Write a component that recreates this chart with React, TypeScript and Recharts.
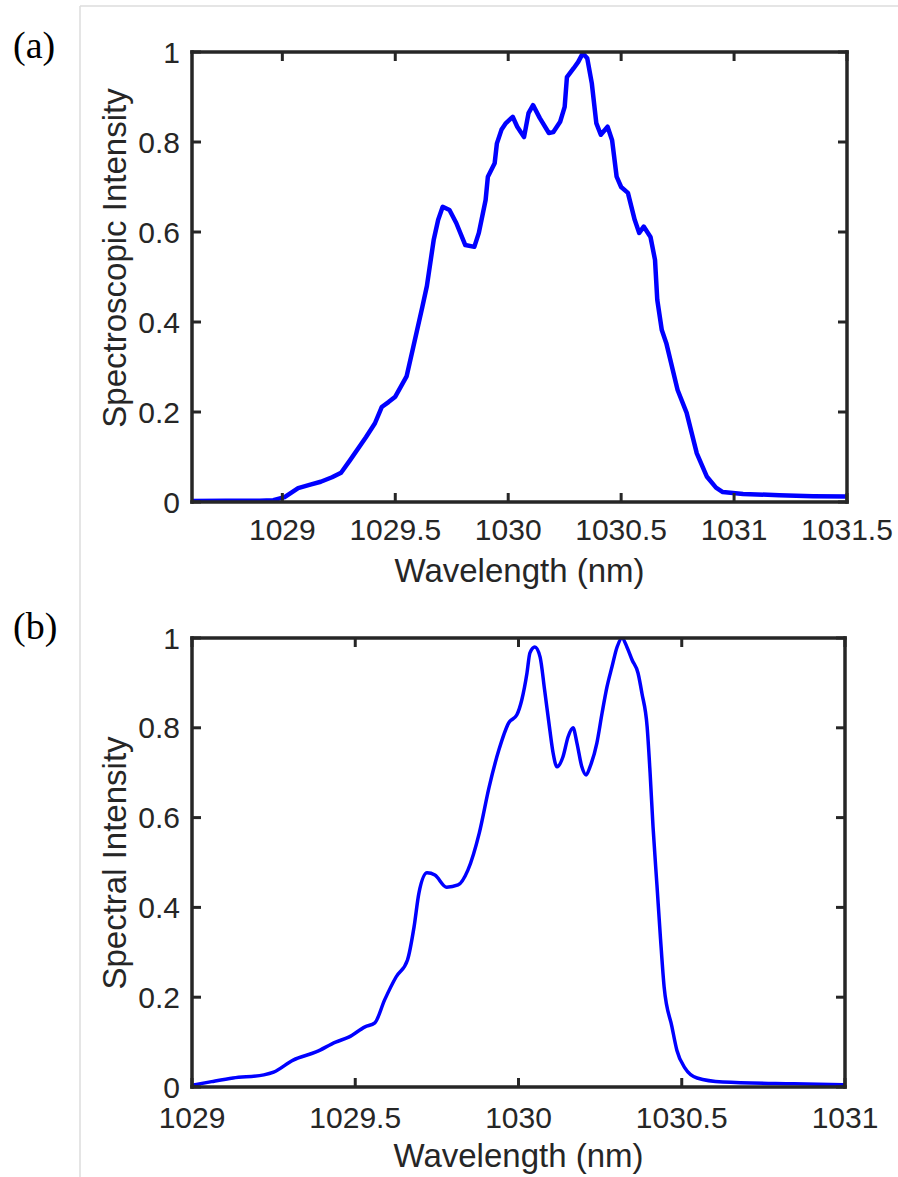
import React from 'react';
import { LineChart, Line, XAxis, YAxis, Label } from 'recharts';

// ---------- data ----------
const topWavelength = [
  1028.6, 1028.75, 1028.9, 1028.96, 1029.01, 1029.07, 1029.12, 1029.17, 1029.22, 1029.26,
  1029.3, 1029.37, 1029.41, 1029.44, 1029.47, 1029.5, 1029.55, 1029.58, 1029.62, 1029.64,
  1029.67, 1029.69, 1029.71, 1029.74, 1029.77, 1029.81, 1029.85, 1029.87, 1029.9, 1029.91,
  1029.94, 1029.95, 1029.97, 1029.99, 1030.02, 1030.04, 1030.07, 1030.09, 1030.11, 1030.14,
  1030.18, 1030.2, 1030.23, 1030.25, 1030.26, 1030.29, 1030.31, 1030.33, 1030.35, 1030.37,
  1030.39, 1030.41, 1030.44, 1030.46, 1030.48, 1030.5, 1030.53, 1030.56, 1030.58, 1030.6,
  1030.63, 1030.65, 1030.66, 1030.68, 1030.7, 1030.75, 1030.79, 1030.835, 1030.88, 1030.92,
  1030.95, 1031.04, 1031.2, 1031.35, 1031.5,
];
const topIntensity = [
  0.002, 0.003, 0.003, 0.004, 0.011, 0.031, 0.038, 0.045, 0.055, 0.065,
  0.093, 0.144, 0.175, 0.211, 0.222, 0.234, 0.279, 0.345, 0.434, 0.48,
  0.582, 0.627, 0.656, 0.649, 0.62, 0.571, 0.567, 0.598, 0.671, 0.723,
  0.753, 0.797, 0.827, 0.842, 0.856, 0.834, 0.811, 0.864, 0.882, 0.853,
  0.82, 0.822, 0.845, 0.878, 0.944, 0.964, 0.978, 0.997, 0.986, 0.931,
  0.842, 0.816, 0.834, 0.804, 0.723, 0.7, 0.687, 0.627, 0.598, 0.612,
  0.589, 0.538, 0.449, 0.382, 0.353, 0.249, 0.198, 0.108, 0.056, 0.032,
  0.022, 0.018, 0.015, 0.013, 0.012,
];

const bottomWavelength = [
  1029.0, 1029.06, 1029.126, 1029.22, 1029.25, 1029.31, 1029.38, 1029.44, 1029.48, 1029.53,
  1029.56, 1029.59, 1029.625, 1029.66, 1029.68, 1029.695, 1029.72, 1029.744, 1029.78, 1029.815,
  1029.845, 1029.88, 1029.91, 1029.94, 1029.97, 1029.995, 1030.01, 1030.026, 1030.035, 1030.05,
  1030.066, 1030.08, 1030.096, 1030.106, 1030.118, 1030.136, 1030.152, 1030.167, 1030.179, 1030.194,
  1030.207, 1030.219, 1030.24, 1030.256, 1030.271, 1030.286, 1030.302, 1030.317, 1030.332, 1030.348,
  1030.366, 1030.378, 1030.394, 1030.403, 1030.412, 1030.424, 1030.435, 1030.446, 1030.47, 1030.485,
  1030.51, 1030.547, 1030.626, 1030.844, 1031.0,
];
const bottomIntensity = [
  0.004, 0.012, 0.02, 0.027, 0.033, 0.06, 0.078, 0.1, 0.111, 0.134,
  0.143, 0.194, 0.245, 0.283, 0.356, 0.432, 0.477, 0.472, 0.445, 0.45,
  0.483, 0.566, 0.668, 0.751, 0.811, 0.829, 0.862, 0.922, 0.967, 0.98,
  0.958, 0.884, 0.795, 0.744, 0.713, 0.735, 0.78, 0.8, 0.766, 0.713,
  0.695, 0.713, 0.766, 0.833, 0.891, 0.935, 0.98, 1.0, 0.98, 0.951,
  0.922, 0.877, 0.802, 0.7, 0.58, 0.45, 0.33, 0.223, 0.134, 0.082,
  0.042, 0.02, 0.011, 0.007, 0.005,
];

const topXTicks = [1029, 1029.5, 1030, 1030.5, 1031, 1031.5];
const bottomXTicks = [1029, 1029.5, 1030, 1030.5, 1031];
const yTicks = [0, 0.2, 0.4, 0.6, 0.8, 1];
const panelLabels = ['(a)', '(b)'];
const xTitle = 'Wavelength (nm)';
const yTitles = ['Spectroscopic Intensity', 'Spectral Intensity'];

// ---------- style ----------
const AXIS = '#262626';
const FONT = '"Liberation Sans", Arial, Helvetica, sans-serif';
const BLUE = '#0000ff';

const topData = topWavelength.map((x, i) => ({ x, y: topIntensity[i] }));
const bottomData = bottomWavelength.map((x, i) => ({ x, y: bottomIntensity[i] }));

const fmt = (v: number) => String(v);
const blank = () => '';

const axisLineStyle = { stroke: AXIS, strokeWidth: 3.5, strokeLinecap: 'square' as const };
const tickLineStyle = { stroke: AXIS, strokeWidth: 3 };
const tickText = { fill: AXIS, fontSize: 30, fontFamily: FONT };

type PanelProps = {
  data: { x: number; y: number }[];
  domain: [number, number];
  xTicks: number[];
  xTickMargin: number;
  yTitle: string;
  yTitleCenter: number;
  height: number;
  margin: { top: number; right: number; bottom: number; left: number };
  strokeWidth: number;
  curve: 'linear' | 'monotone';
};

function Panel(p: PanelProps) {
  const xLabel = (props: any) => {
    const vb = props.viewBox || {};
    return (
      <text x={vb.x + vb.width / 2} y={vb.y + 80} textAnchor="middle" fill={AXIS} fontSize={33} fontFamily={FONT}>
        {xTitle}
      </text>
    );
  };
  const yLabel = () => (
    <text
      x={126}
      y={p.yTitleCenter}
      transform={`rotate(-90, 126, ${p.yTitleCenter})`}
      textAnchor="middle"
      fill={AXIS}
      fontSize={33}
      fontFamily={FONT}
    >
      {p.yTitle}
    </text>
  );
  return (
    <LineChart width={898} height={p.height} data={p.data} margin={p.margin}>
      <XAxis
        xAxisId="b"
        dataKey="x"
        type="number"
        domain={p.domain}
        allowDataOverflow
        ticks={p.xTicks}
        interval={0}
        height={60}
        tickSize={-9}
        tickMargin={p.xTickMargin}
        axisLine={axisLineStyle}
        tickLine={tickLineStyle}
        tick={tickText}
        tickFormatter={fmt}
        label={<Label content={xLabel} />}
      />
      <XAxis
        xAxisId="t"
        orientation="top"
        dataKey="x"
        type="number"
        domain={p.domain}
        allowDataOverflow
        ticks={p.xTicks}
        interval={0}
        height={1}
        tickSize={-9}
        tickMargin={0}
        axisLine={axisLineStyle}
        tickLine={tickLineStyle}
        tick={tickText}
        tickFormatter={blank}
      />
      <YAxis
        yAxisId="l"
        type="number"
        domain={[0, 1]}
        allowDataOverflow
        ticks={yTicks}
        interval={0}
        width={100}
        tickSize={-9}
        tickMargin={21}
        axisLine={axisLineStyle}
        tickLine={tickLineStyle}
        tick={tickText}
        tickFormatter={fmt}
        label={<Label content={yLabel} />}
      />
      <YAxis
        yAxisId="r"
        orientation="right"
        type="number"
        domain={[0, 1]}
        allowDataOverflow
        ticks={yTicks}
        interval={0}
        width={1}
        tickSize={-9}
        tickMargin={0}
        axisLine={axisLineStyle}
        tickLine={tickLineStyle}
        tick={tickText}
        tickFormatter={blank}
      />
      <Line
        xAxisId="b"
        yAxisId="l"
        dataKey="y"
        type={p.curve}
        stroke={BLUE}
        strokeWidth={p.strokeWidth}
        strokeLinejoin="round"
        dot={false}
        activeDot={false}
        isAnimationActive={false}
      />
    </LineChart>
  );
}

export default function App() {
  return (
    <div style={{ position: 'absolute', left: 0, top: 0, width: 898, height: 1177, background: '#fff', overflow: 'hidden' }}>
      <div style={{ position: 'absolute', left: 0, top: 0 }}>
        <Panel
          data={topData}
          domain={[1028.6, 1031.5]}
          xTicks={topXTicks}
          xTickMargin={26}
          yTitle={yTitles[0]}
          yTitleCenter={258}
          height={600}
          margin={{ top: 51, right: 50, bottom: 38, left: 92 }}
          strokeWidth={4.5}
          curve="linear"
        />
      </div>
      <div style={{ position: 'absolute', left: 0, top: 600 }}>
        <Panel
          data={bottomData}
          domain={[1029, 1031]}
          xTicks={bottomXTicks}
          xTickMargin={29}
          yTitle={yTitles[1]}
          yTitleCenter={263}
          height={577}
          margin={{ top: 37, right: 52, bottom: 30, left: 92 }}
          strokeWidth={3.5}
          curve="monotone"
        />
      </div>
      <svg width={898} height={1177} style={{ position: 'absolute', left: 0, top: 0, pointerEvents: 'none' }}>
        <line x1={80} y1={6} x2={898} y2={6} stroke="#dcdcdc" strokeWidth={1.5} />
        <line x1={80} y1={6} x2={80} y2={1177} stroke="#dcdcdc" strokeWidth={1.5} />
        <text x={13} y={58} fontSize={38} fontFamily='"Liberation Serif", "Times New Roman", serif' fill="#000">
          {panelLabels[0]}
        </text>
        <text x={13} y={639} fontSize={38} fontFamily='"Liberation Serif", "Times New Roman", serif' fill="#000">
          {panelLabels[1]}
        </text>
      </svg>
    </div>
  );
}
